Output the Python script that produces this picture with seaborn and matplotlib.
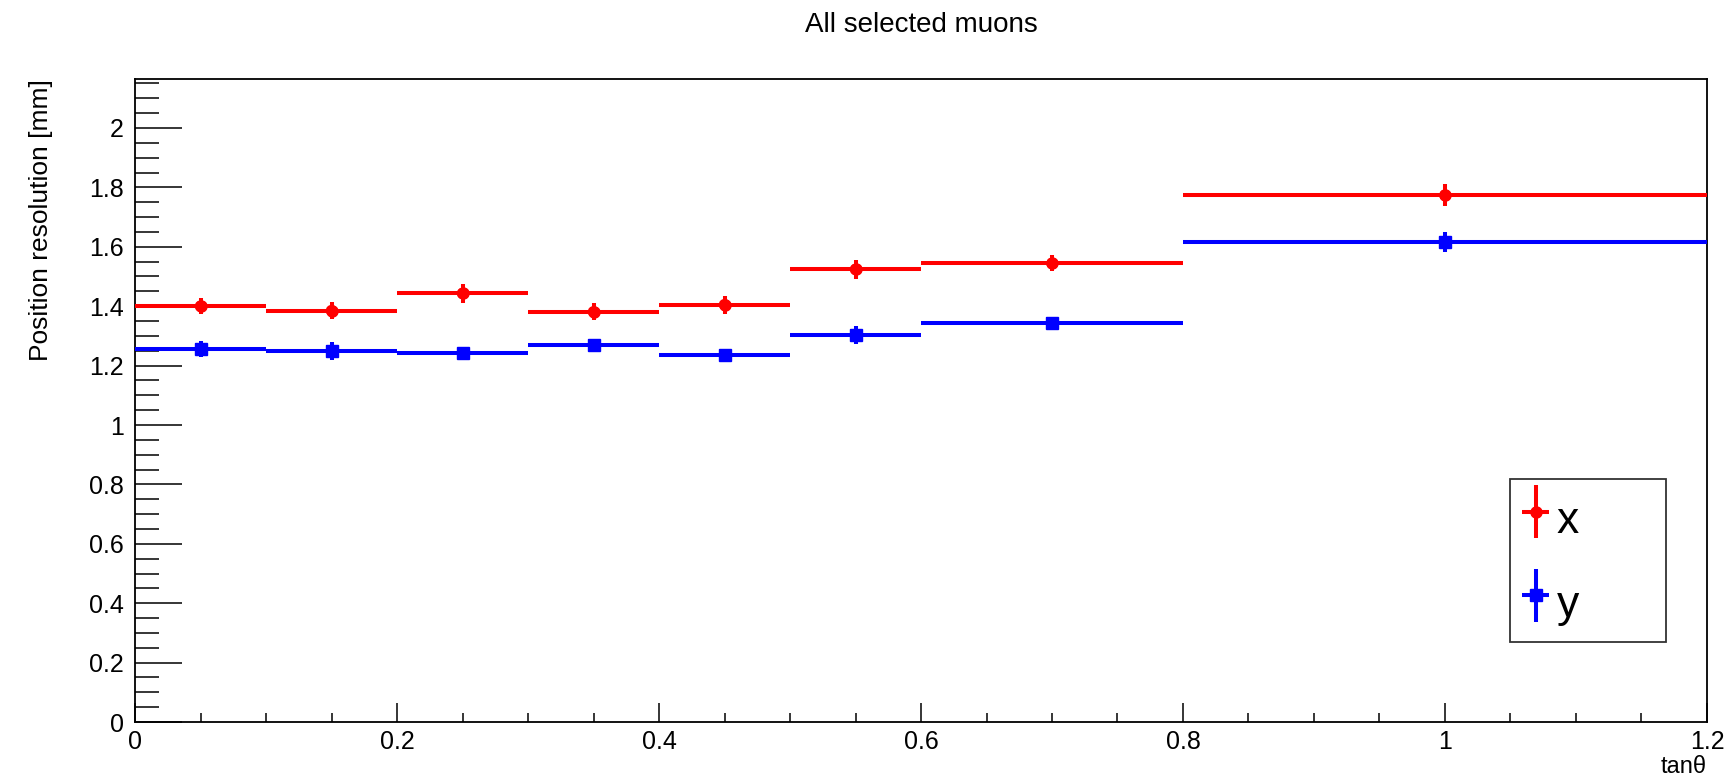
import matplotlib
matplotlib.use("Agg")
import matplotlib.pyplot as plt
import numpy as np
import pandas as pd
import seaborn as sns
from matplotlib import font_manager, ticker
from matplotlib.container import ErrorbarContainer
from matplotlib.legend_handler import HandlerErrorbar

# tan(theta) bins and fitted resolutions
bin_edges = [0.0, 0.1, 0.2, 0.3, 0.4, 0.5, 0.6, 0.8, 1.2]
res_x = [1.400, 1.385, 1.443, 1.381, 1.405, 1.524, 1.544, 1.774]
err_x = [0.027, 0.028, 0.031, 0.029, 0.030, 0.033, 0.027, 0.038]
res_y = [1.257, 1.250, 1.241, 1.269, 1.236, 1.304, 1.344, 1.617]
err_y = [0.027, 0.030, 0.018, 0.018, 0.016, 0.031, 0.015, 0.034]

edges = np.array(bin_edges)
centers = (edges[:-1] + edges[1:]) / 2
half_w = (edges[1:] - edges[:-1]) / 2

df = pd.DataFrame({
    "tan": np.concatenate([centers, centers]),
    "hw": np.concatenate([half_w, half_w]),
    "res": res_x + res_y,
    "err": err_x + err_y,
    "coord": ["x"] * len(res_x) + ["y"] * len(res_y),
})

sns.set_style("ticks")
plt.rcParams["font.family"] = ["Liberation Sans", "DejaVu Sans"]
for k in ["text.color", "axes.labelcolor", "xtick.color", "ytick.color", "axes.edgecolor"]:
    plt.rcParams[k] = "black"

names = {f.name for f in font_manager.fontManager.ttflist}
title_font = ["Liberation Sans Narrow", "Liberation Sans", "DejaVu Sans"] \
    if "Liberation Sans Narrow" in names else ["Liberation Sans", "DejaVu Sans"]

fig = plt.figure(figsize=(17.27, 7.82), dpi=100)
ax = fig.add_axes([0.0782, 0.0767, 0.9102, 0.8223])

colors = {"x": "#ff0000", "y": "#0000ff"}
markers = {"x": "o", "y": "s"}
msize = {"x": 8, "y": 8.5}

handles = []
for c in ["x", "y"]:
    d = df[df["coord"] == c]
    h = ax.errorbar(d["tan"], d["res"], xerr=d["hw"], yerr=d["err"],
                    fmt=markers[c], color=colors[c], ms=msize[c],
                    elinewidth=2.9, capsize=0, label=c, zorder=3)
    handles.append(h)

sns.scatterplot(data=df, x="tan", y="res", hue="coord", style="coord",
                palette=colors, markers=markers, s=70, linewidth=0,
                legend=False, ax=ax, zorder=4)

ax.set_xlim(0, 1.2)
ax.set_ylim(0, 2.165)
ax.xaxis.set_major_locator(ticker.MultipleLocator(0.2))
ax.xaxis.set_minor_locator(ticker.MultipleLocator(0.05))
ax.yaxis.set_major_locator(ticker.MultipleLocator(0.2))
ax.yaxis.set_minor_locator(ticker.MultipleLocator(0.05))
fmt = ticker.FuncFormatter(lambda v, p: "%g" % round(v, 3))
ax.xaxis.set_major_formatter(fmt)
ax.yaxis.set_major_formatter(fmt)

ax.tick_params(axis="y", which="major", direction="in", length=34, width=1.1,
               labelsize=18, pad=8, left=True, right=False)
ax.tick_params(axis="y", which="minor", direction="in", length=17, width=1.1,
               left=True, right=False)
ax.tick_params(axis="x", which="major", direction="in", length=13.5, width=1.1,
               labelsize=18, pad=6, bottom=True, top=False)
ax.tick_params(axis="x", which="minor", direction="in", length=6.5, width=1.1,
               bottom=True, top=False)
for s in ax.spines.values():
    s.set_linewidth(1.3)
    s.set_color("black")

ax.set_xlabel("tan\u03b8", fontsize=17, loc="right", labelpad=1)
ax.set_ylabel("Position resolution [mm]", fontsize=19, loc="top", labelpad=26)
ax.set_title("All selected muons", fontsize=20, family=title_font, pad=34)

leg = ax.legend(handles=handles, labels=["x", "y"], loc="lower left",
                bbox_to_anchor=(0.8747, 0.1244, 0.0993, 0.25), mode="expand",
                fontsize=32, frameon=True, fancybox=False, edgecolor="black",
                borderpad=0.25, labelspacing=0.6, handlelength=0.65,
                handleheight=1.6, handletextpad=0.15, borderaxespad=0,
                handler_map={ErrorbarContainer: HandlerErrorbar(xerr_size=0.3, yerr_size=0.6)})
leg.get_frame().set_linewidth(1.3)

fig.savefig("out.png", dpi=100)
